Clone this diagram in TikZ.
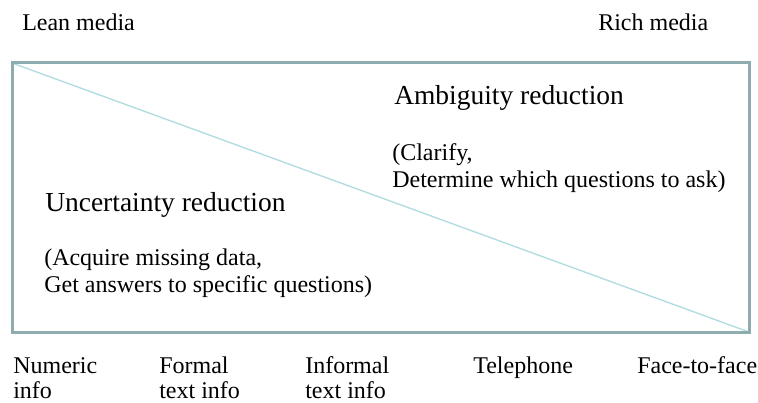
\documentclass[tikz,border=0pt]{standalone}
\usepackage{fontspec}
\setmainfont{Liberation Serif}
\definecolor{frame}{RGB}{142,172,176}
\definecolor{diag}{RGB}{176,220,224}
\begin{document}
\begin{tikzpicture}[x=0.75pt,y=-0.75pt,
  lbl/.style={inner sep=0pt,anchor=base west,align=left,font=\fontsize{18}{20.25}\selectfont},
  head/.style={inner sep=0pt,anchor=base west,font=\fontsize{20.6}{24}\selectfont},
  botl/.style={inner sep=0pt,anchor=base west,align=left,font=\fontsize{18}{18.75}\selectfont}]
\useasboundingbox[fill=white] (0,0) rectangle (758,403);
\coordinate (tl) at (12,63);
\coordinate (br) at (749,332);
\draw[diag,line width=1pt] (tl) -- (br);
\draw[frame,line width=2.25pt] (tl) rectangle (br);
\node[lbl] (lean) at (22,31) {Lean media};
\node[lbl] (rich) at (598,31) {Rich media};
\node[head] (amb) at (394,105) {Ambiguity reduction};
\node[lbl] (clar) at (392,187) {(Clarify,\\Determine which questions to ask)};
\node[head] (unc) at (45,212) {Uncertainty reduction};
\node[lbl] (acq) at (44,292) {(Acquire missing data,\\Get answers to specific questions)};
\node[botl] (num) at (13,398) {Numeric\\info};
\node[botl] (form) at (159,398) {Formal\\text info};
\node[botl] (inf) at (305,398) {Informal\\text info};
\node[botl] (tel) at (473,373) {Telephone};
\node[botl] (f2f) at (637,373) {Face-to-face};
\end{tikzpicture}
\end{document}
